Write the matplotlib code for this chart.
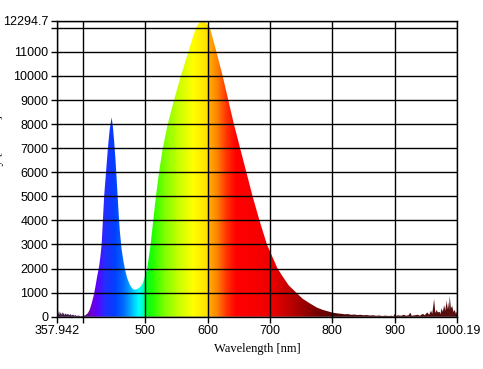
import numpy as np
import matplotlib
matplotlib.use('Agg')
import matplotlib.pyplot as plt
from matplotlib.colors import LinearSegmentedColormap
from matplotlib.patches import Polygon

# spectrum (nm, counts)
wavelength = [357.942, 359, 360, 361, 362, 363, 364, 365, 366, 367, 368, 369, 371, 372, 374, 376,
              378, 380, 382, 384, 386, 388, 390, 393, 396, 400, 404, 408, 411, 414, 417, 420,
              423, 426, 428, 430, 432, 434, 437, 440, 443, 446, 448, 450, 452, 455, 457, 459,
              462, 465, 468, 471, 474, 477, 480, 483.5, 486, 489, 492, 495.5, 498, 500, 503,
              508.5, 512.7, 517, 522, 528, 536, 546, 557, 569, 581, 587, 592, 597, 603.6, 614,
              624, 633, 642, 652, 662, 672, 683, 695, 712, 722, 730, 742, 752, 764, 775,
              785, 800, 805, 810, 815, 820, 825, 830, 835, 840, 845, 850, 855, 860, 865, 870,
              875, 880, 885, 890, 895, 898, 900, 902, 905, 910, 915, 918, 922, 925, 927, 932,
              937, 940, 945, 948, 952, 955, 958, 960, 963, 965, 967, 969, 972, 973, 975, 977,
              979, 981, 983, 984, 985.5, 987, 988, 990, 992, 994, 996, 998, 1000.19]
intensity = [350, 120, 280, 90, 230, 60, 180, 150, 70, 200, 90, 160, 60, 140, 80, 120,
             60, 110, 50, 90, 40, 70, 30, 50, 20, 30, 60, 150, 300, 550, 850, 1250,
             1700, 2100, 2500, 3000, 4000, 5000, 6000, 7000, 7800, 8280, 7900, 7300, 6600, 5300, 4400, 3600,
             2800, 2300, 1900, 1600, 1400, 1250, 1150, 1120, 1140, 1180, 1240, 1370, 1540, 1750, 2000,
             3000, 4000, 5000, 6000, 7000, 8000, 9000, 10000, 11000, 12000, 12220, 12294.7, 12220, 12000, 11000,
             10000, 9000, 8000, 7000, 6000, 5000, 4000, 3000, 2000, 1600, 1300, 1000, 750, 550, 380,
             280, 170, 150, 130, 120, 100, 110, 80, 90, 70, 80, 60, 70, 50, 60, 40,
             50, 30, 45, 30, 40, 20, 120, 30, 60, 40, 80, 40, 60, 170, 40, 60,
             80, 40, 120, 60, 180, 80, 250, 120, 730, 150, 280, 180, 200, 100, 350, 200,
             480, 250, 690, 300, 600, 300, 870, 350, 450, 200, 280, 120, 250]

x_ticks = [357.942, 400, 500, 600, 700, 800, 900, 1000.19]
x_labels = ['357.942', '', '500', '600', '700', '800', '900', '1000.19']
y_ticks = [0, 1000, 2000, 3000, 4000, 5000, 6000, 7000, 8000, 9000, 10000, 11000, 12000, 12294.7]
y_labels = ['0', '1000', '2000', '3000', '4000', '5000', '6000', '7000', '8000', '9000',
            '10000', '11000', '', '12294.7']

# colour of the fill along the wavelength axis
color_stops = [(357.942, '#3c2040'), (400, '#4a1060'), (410, '#7000c0'), (420, '#6000ff'),
               (435, '#2030ff'), (450, '#0040ff'), (465, '#0070ff'), (478, '#00c0ff'),
               (488, '#00ffff'), (495, '#00ffc0'), (500, '#00ff20'), (510, '#20ff00'),
               (530, '#80ff00'), (555, '#d0ff00'), (575, '#ffff00'), (598, '#ffe000'),
               (601, '#ffb000'), (615, '#ff8000'), (630, '#ff3000'), (645, '#ff0000'),
               (700, '#f00000'), (720, '#d00000'), (750, '#a00000'), (780, '#700000'),
               (810, '#500808'), (900, '#4a0a0a'), (1000.19, '#5a1010')]

xmin, xmax = x_ticks[0], x_ticks[-1]
ymax = y_ticks[-1]

fig = plt.figure(figsize=(4.83, 3.69), dpi=100)
ax = fig.add_axes([0.1174, 0.1417, 0.8294, 0.8022])

cmap = LinearSegmentedColormap.from_list(
    'spec', [((w - xmin) / (xmax - xmin), c) for w, c in color_stops])
grad = np.linspace(0, 1, 1500).reshape(1, -1)
im = ax.imshow(grad, cmap=cmap, aspect='auto', extent=[xmin, xmax, 0, ymax],
               origin='lower', interpolation='bilinear', zorder=1)

verts = np.vstack([[wavelength[0], 0], np.column_stack([wavelength, intensity]),
                   [wavelength[-1], 0]])
patch = Polygon(verts, closed=True, facecolor='none', edgecolor='none')
ax.add_patch(patch)
im.set_clip_path(patch)

ax.set_xlim(xmin, xmax)
ax.set_ylim(0, ymax)
ax.set_xticks(x_ticks)
ax.set_xticklabels(x_labels)
ax.set_yticks(y_ticks)
ax.set_yticklabels(y_labels)
ax.set_axisbelow(False)
ax.grid(True, color='black', linewidth=1.0)
ax.tick_params(direction='out', length=4, width=1, color='black', pad=2,
               labelsize=9)
for lab in ax.get_xticklabels() + ax.get_yticklabels():
    lab.set_fontfamily('Liberation Sans')
for s in ax.spines.values():
    s.set_linewidth(1.0)
    s.set_zorder(3)

ax.set_xlabel('Wavelength [nm]', fontfamily='Liberation Serif', fontsize=9, labelpad=4)
fig.text(-0.004, 0.57, 'Intensity [counts]', rotation=90, ha='center', va='center',
         fontfamily='Liberation Serif', fontsize=9)

fig.savefig('out.png', dpi=100)
